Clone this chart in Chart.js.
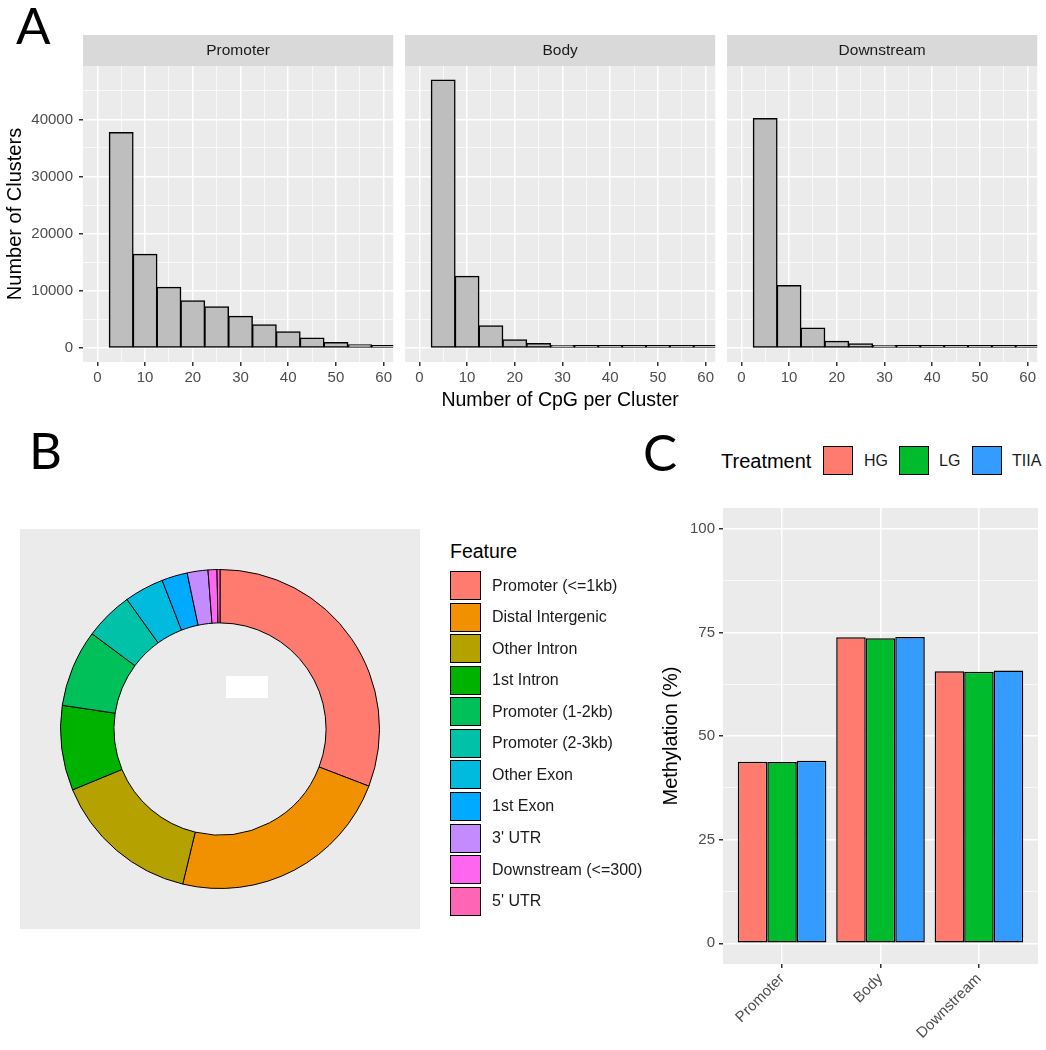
<!DOCTYPE html>
<html>
<head>
<meta charset="utf-8">
<script src="https://cdn.jsdelivr.net/npm/chart.js@4.4.0/dist/chart.umd.min.js"></script>
<style>
  body { margin: 0; background: #fff; width: 1046px; height: 1050px; position: relative; overflow: hidden;
         font-family: "Liberation Sans", Arial, sans-serif; }
  canvas { position: absolute; }
  .tag { position: absolute; font-family: Lato, "Open Sans", sans-serif; font-size: 51px; line-height: 1; color: #000; }
  .key { position: absolute; box-sizing: border-box; border: 1.5px solid #000; }
  .lab { position: absolute; white-space: nowrap; color: #1a1a1a; }
</style>
</head>
<body>
<div class="tag" style="left:16px;top:-1px;">A</div>
<div class="tag" style="left:29px;top:424px;">B</div>
<div class="tag" style="left:643px;top:426px;">C</div>

<canvas id="histPromoter" width="395" height="374" style="left:0;top:35px;"></canvas>
<canvas id="histBody" width="312" height="377" style="left:405px;top:35px;"></canvas>
<canvas id="histDownstream" width="312" height="374" style="left:727px;top:35px;"></canvas>
<canvas id="donut" width="400" height="400" style="left:20px;top:529px;background:#ebebeb;"></canvas>
<canvas id="methBars" width="406" height="555" style="left:640px;top:495px;"></canvas>
<div id="legendB"></div>
<div id="legendC"></div>

<script>
// ---- panel A: CpG per cluster histograms (bin centres, counts)
const binCenters = [5, 10, 15, 20, 25, 30, 35, 40, 45, 50, 55, 60];
const promoterCounts = [37700, 16400, 10650, 8250, 7200, 5550, 4050, 2850, 1750, 980, 570, 280];
const bodyCounts = [46900, 12550, 3900, 1450, 780, 450, 280, 150, 90, 50, 30, 20];
const downstreamCounts = [40150, 10950, 3500, 1200, 740, 450, 280, 150, 90, 50, 30, 20];
const histXTicks = [0, 5, 10, 15, 20, 25, 30, 35, 40, 45, 50, 55, 60];
const histYTicks = [0, 5000, 10000, 15000, 20000, 25000, 30000, 35000, 40000, 45000];

// ---- panel B: genomic feature distribution (%)
const featureLabels = ['Promoter (<=1kb)', 'Distal Intergenic', 'Other Intron', '1st Intron', 'Promoter (1-2kb)',
  'Promoter (2-3kb)', 'Other Exon', '1st Exon', "3' UTR", 'Downstream (<=300)', "5' UTR"];
const featurePercents = [30.8, 22.9, 15.0, 8.6, 7.8, 4.9, 4.0, 2.6, 2.1, 0.9, 0.3];
const featureColors = ['#FF7B6F', '#F29100', '#B5A200', '#00B200', '#00C05A', '#00C2A8',
  '#00BBDD', '#00AAFF', '#C48BFF', '#FF66F0', '#FF65B5'];

// ---- panel C: methylation by region and treatment
const regions = ['Promoter', 'Body', 'Downstream'];
const treatments = ['HG', 'LG', 'TIIA'];
const hgValues = [43.8, 73.8, 65.6];
const lgValues = [43.7, 73.6, 65.5];
const tiiaValues = [44.0, 73.9, 65.8];
const treatmentColors = ['#FF7B6F', '#00BB2B', '#349CFF'];
const methYTicks = [0, 12.5, 25, 37.5, 50, 62.5, 75, 87.5, 100];

const tickGrey = '#4d4d4d';

// grey panel background + optional facet strip
const panelBg = {
  id: 'panelBg',
  beforeDraw(chart, args, opts) {
    const { ctx, chartArea: a } = chart;
    ctx.save();
    ctx.fillStyle = '#ebebeb';
    ctx.fillRect(a.left, a.top, a.right - a.left, a.bottom - a.top);
    if (opts.strip) {
      ctx.fillStyle = '#d9d9d9';
      ctx.fillRect(a.left, a.top - 31, a.right - a.left, 31);
      ctx.fillStyle = '#1a1a1a';
      ctx.font = '15.5px "Liberation Sans"';
      ctx.textAlign = 'center';
      ctx.textBaseline = 'middle';
      ctx.fillText(opts.strip, (a.left + a.right) / 2, a.top - 15);
    }
    ctx.restore();
  }
};

function makeHist(id, name, counts, withYAxis, withXTitle) {
  new Chart(document.getElementById(id), {
    type: 'bar',
    data: {
      datasets: [{
        data: binCenters.map((x, i) => ({ x: x, y: counts[i] })),
        backgroundColor: '#bebebe',
        borderColor: '#000',
        borderWidth: 1.5,
        borderSkipped: false,
        minBarLength: 2.5,
        inflateAmount: 0.5,
        barPercentage: 1,
        categoryPercentage: 1
      }]
    },
    options: {
      responsive: false,
      animation: false,
      layout: { padding: { top: 31, right: 0, left: 0, bottom: 0 } },
      plugins: { legend: { display: false }, tooltip: { enabled: false }, panelBg: { strip: name } },
      scales: {
        x: {
          type: 'linear', min: -3, max: 62, offset: false,
          afterBuildTicks: (axis) => { axis.ticks = histXTicks.map(v => ({ value: v })); },
          afterFit: (axis) => { axis.height = withXTitle ? 50 : 47; },
          ticks: { autoSkip: false, maxRotation: 0, padding: 3, color: tickGrey, font: { size: 15 },
                   callback: (v) => (v % 10 === 0 ? v : '') },
          grid: { offset: false, color: '#fff', lineWidth: (c) => (c.tick && c.tick.value % 10 === 0 ? 1.5 : 0.7),
                  tickLength: 4, tickWidth: 1.5,
                  tickColor: (c) => (c.tick && c.tick.value % 10 === 0 ? '#333' : 'rgba(0,0,0,0)') },
          border: { display: false },
          title: { display: withXTitle, text: 'Number of CpG per Cluster', color: '#000',
                   font: { size: 19.5 }, padding: { top: 0, bottom: 0 } }
        },
        y: {
          min: -2450, max: 49350,
          afterBuildTicks: (axis) => { axis.ticks = histYTicks.map(v => ({ value: v })); },
          afterFit: (axis) => { axis.width = withYAxis ? 83 : 0; },
          ticks: { display: withYAxis, padding: 6, color: tickGrey, font: { size: 15 },
                   callback: (v) => (v % 10000 === 0 ? v : '') },
          grid: { color: '#fff', lineWidth: (c) => (c.tick && c.tick.value % 10000 === 0 ? 1.5 : 0.7),
                  drawTicks: withYAxis, tickLength: 4, tickWidth: 1.5,
                  tickColor: (c) => (c.tick && c.tick.value % 10000 === 0 ? '#333' : 'rgba(0,0,0,0)') },
          border: { display: false },
          title: { display: withYAxis, text: 'Number of Clusters', color: '#000',
                   font: { size: 20 }, padding: { top: 3, bottom: 0 } }
        }
      }
    },
    plugins: [panelBg]
  });
}

makeHist('histPromoter', 'Promoter', promoterCounts, true, false);
makeHist('histBody', 'Body', bodyCounts, false, true);
makeHist('histDownstream', 'Downstream', downstreamCounts, false, false);

// ---- panel B doughnut
const blankLabel = {
  id: 'blankLabel',
  afterDraw(chart) {
    const ctx = chart.ctx;
    ctx.save();
    ctx.fillStyle = '#fff';
    ctx.fillRect(206, 147, 42, 22);
    ctx.restore();
  }
};

new Chart(document.getElementById('donut'), {
  type: 'doughnut',
  data: {
    labels: featureLabels,
    datasets: [{ data: featurePercents, backgroundColor: featureColors, borderColor: '#000', borderWidth: 1 }]
  },
  options: {
    responsive: false,
    animation: false,
    cutout: '66.5%',
    layout: { padding: 40 },
    plugins: { legend: { display: false }, tooltip: { enabled: false } }
  },
  plugins: [blankLabel]
});

// legend B (html)
const legB = document.getElementById('legendB');
let html = '<div class="lab" style="left:450px;top:540px;font-size:19.5px;color:#000;">Feature</div>';
featureLabels.forEach((lab, i) => {
  const top = 571 + 31.57 * i;
  html += `<div class="key" style="left:450px;top:${top}px;width:31px;height:29px;background:${featureColors[i]};"></div>`;
  html += `<div class="lab" style="left:492px;top:${top + 5.5}px;font-size:16px;line-height:18px;">${lab.replace('<', '&lt;')}</div>`;
});
legB.innerHTML = html;

// legend C (html)
const legC = document.getElementById('legendC');
const keyLeft = [823, 899, 972];
const textLeft = [864, 939, 1012];
html = '<div class="lab" style="left:721px;top:450px;font-size:20px;line-height:22px;color:#000;">Treatment</div>';
treatments.forEach((t, i) => {
  html += `<div class="key" style="left:${keyLeft[i]}px;top:446px;width:30px;height:29px;background:${treatmentColors[i]};"></div>`;
  html += `<div class="lab" style="left:${textLeft[i]}px;top:452px;font-size:16px;line-height:18px;">${t}</div>`;
});
legC.innerHTML = html;

// ---- panel C grouped bars
const methSeries = [hgValues, lgValues, tiiaValues];
new Chart(document.getElementById('methBars'), {
  type: 'bar',
  data: {
    datasets: treatments.map((t, k) => ({
      label: t,
      data: regions.map((r, i) => ({ x: i + 1, y: methSeries[k][i] })),
      backgroundColor: treatmentColors[k],
      borderColor: '#000',
      borderWidth: 1.5,
      borderSkipped: false,
      barPercentage: 1,
      categoryPercentage: 0.9
    }))
  },
  options: {
    responsive: false,
    animation: false,
    layout: { padding: { top: 11, right: 8, left: 0, bottom: 0 } },
    plugins: { legend: { display: false }, tooltip: { enabled: false }, panelBg: {} },
    scales: {
      x: {
        type: 'linear', min: 0.4, max: 3.6, offset: false,
        afterBuildTicks: (axis) => { axis.ticks = regions.map((r, i) => ({ value: i + 1 })); },
        afterFit: (axis) => { axis.height = 86; },
        ticks: { autoSkip: false, minRotation: 45, maxRotation: 45, padding: 2, color: tickGrey, font: { size: 15 },
                 callback: (v) => regions[v - 1] },
        grid: { offset: false, color: '#fff', lineWidth: 1.5, tickLength: 4, tickWidth: 1.5, tickColor: '#333' },
        border: { display: false }
      },
      y: {
        min: -5, max: 105,
        afterBuildTicks: (axis) => { axis.ticks = methYTicks.map(v => ({ value: v })); },
        afterFit: (axis) => { axis.width = 83; },
        ticks: { padding: 4, color: tickGrey, font: { size: 15 }, callback: (v) => (v % 25 === 0 ? v : '') },
        grid: { color: '#fff', lineWidth: (c) => (c.tick && c.tick.value % 25 === 0 ? 1.5 : 0.7),
                tickLength: 4, tickWidth: 1.5,
                tickColor: (c) => (c.tick && c.tick.value % 25 === 0 ? '#333' : 'rgba(0,0,0,0)') },
        border: { display: false },
        title: { display: true, text: 'Methylation (%)', color: '#000', font: { size: 20 },
                 padding: { top: 19, bottom: 0 } }
      }
    }
  },
  plugins: [panelBg]
});
</script>
</body>
</html>
